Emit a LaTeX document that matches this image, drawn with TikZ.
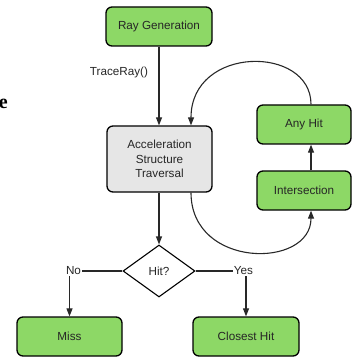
\documentclass[tikz,border=0pt]{standalone}
\usepackage{fontspec}
\setmainfont{Liberation Sans}
\newfontfamily\serifbold{Liberation Serif}
\usetikzlibrary{shapes.geometric,arrows.meta,calc}
\definecolor{boxgreen}{RGB}{141,216,102}
\definecolor{boxgray}{RGB}{230,230,230}
\definecolor{linegray}{RGB}{40,40,40}
\begin{document}
\begin{tikzpicture}[x=1pt,y=-1pt,
  every node/.style={font=\fontsize{11.7}{14.5}\selectfont, text=black!85},
  greenbox/.style={draw=black, line width=1.3pt, rounded corners=6pt, fill=boxgreen, minimum height=39pt, inner sep=0pt, align=center},
  graybox/.style={draw=black, line width=1.3pt, rounded corners=6pt, fill=boxgray, inner sep=0pt, align=center},
  decision/.style={draw=black, line width=1.1pt, diamond, aspect=1.385, minimum width=72pt, minimum height=52pt, inner sep=0pt},
  lbl/.style={inner sep=1pt},
  conn/.style={draw=linegray, line width=1.1pt},
  arr/.style={conn, -{Triangle[length=8pt,width=6pt]}}
]
\useasboundingbox (0,0) rectangle (352,358);

\node[font=\serifbold\bfseries\fontsize{20}{20}\selectfont, anchor=east, inner sep=0pt, text=black] (frag) at (8,104) {e};

\node[greenbox, minimum width=106pt] (rg) at (159,26.5) {Ray Generation};
\node[graybox, minimum width=105pt, minimum height=66pt] (acc) at (159.5,159) {Acceleration\\Structure\\Traversal};
\node[greenbox, minimum width=94pt] (ah) at (304,124.5) {Any Hit};
\node[greenbox, minimum width=94pt] (is) at (304,190.5) {Intersection};
\node[decision] (d) at (159,271) {Hit?};
\node[greenbox, minimum width=105pt] (miss) at (69.5,336.5) {Miss};
\node[greenbox, minimum width=106pt] (ch) at (246,336.5) {Closest Hit};

\node[lbl] (tr) at (119,72) {TraceRay()};
\node[lbl] (no) at (73.5,271) {No};
\node[lbl] (yes) at (243.5,271) {Yes};

\coordinate (ahtop) at ($(ah.north)+(7,0)$);
\coordinate (acctopr) at ($(acc.north)+(31.5,0)$);
\coordinate (accbotr) at ($(acc.south)+(31.5,0)$);
\coordinate (isbot) at ($(is.south)+(7,0)$);
\coordinate (istop) at ($(is.north)+(7,0)$);

\draw[arr] (rg.south -| d.north) -- (acc.north -| d.north);
\draw[arr] (ahtop) .. controls (311,45) and (191,45) .. (acctopr);
\draw[arr] (accbotr) .. controls (191,269) and (311,269) .. (isbot);
\draw[arr] (istop) -- (ahtop |- ah.south);
\draw[arr] (acc.south -| d.north) -- (d.north);
\draw[conn] (d.west) -- (no.east);
\draw[arr] (miss.north |- no.south) -- (miss.north);
\draw[conn] (d.east) -- (yes.west);
\draw[arr] (ch.north |- yes.south) -- (ch.north);
\end{tikzpicture}
\end{document}
